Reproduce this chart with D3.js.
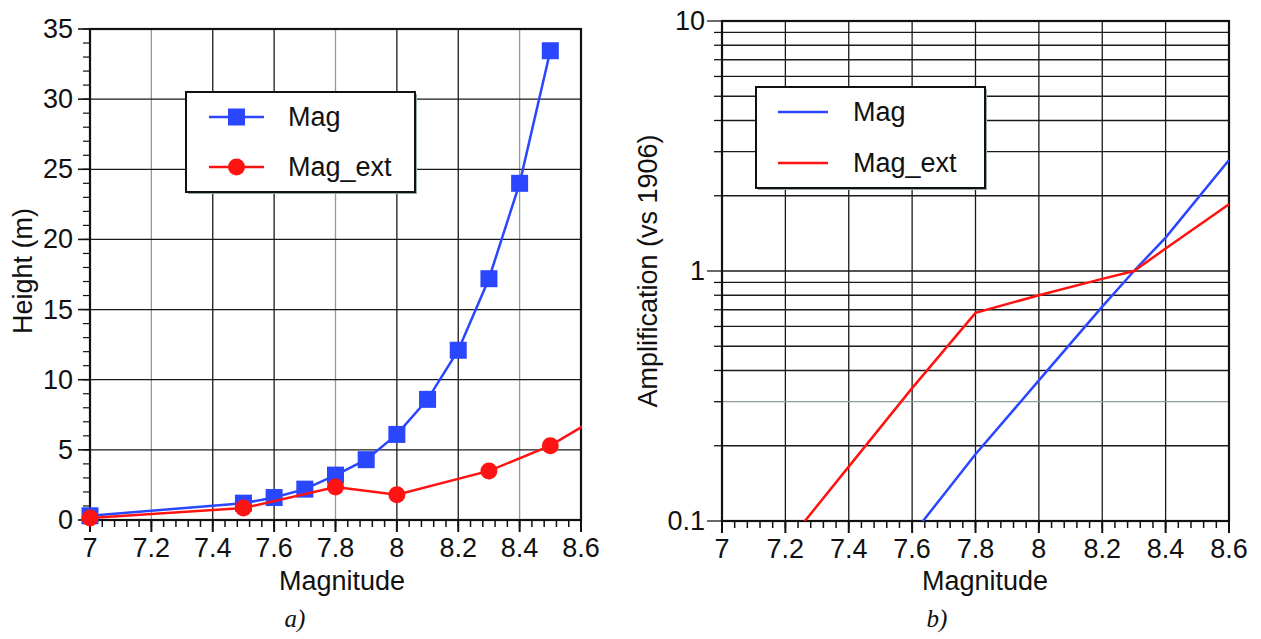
<!DOCTYPE html>
<html>
<head>
<meta charset="utf-8">
<script src="https://cdn.jsdelivr.net/npm/d3@7"></script>
<style>
  html, body { margin: 0; padding: 0; background: #ffffff; }
  svg { display: block; }
  text { font-family: "Liberation Sans", Arial, Helvetica, sans-serif; fill: #111; }
</style>
</head>
<body>
<svg id="chart" width="1261" height="639"></svg>
<script>
// ---- Panel a: tsunami height vs magnitude ----
const heightMagX    = [7.0, 7.5, 7.6, 7.7, 7.8, 7.9, 8.0, 8.1, 8.2, 8.3, 8.4, 8.5];
const heightMag     = [0.3, 1.2, 1.6, 2.2, 3.2, 4.3, 6.1, 8.6, 12.1, 17.2, 24.0, 33.45];
const heightExtX    = [7.0, 7.5, 7.8, 8.0, 8.3, 8.5, 8.7];
const heightExt     = [0.15, 0.85, 2.35, 1.8, 3.5, 5.3, 7.9];
const heightYTicks  = [0, 5, 10, 15, 20, 25, 30, 35];

// ---- Panel b: amplification relative to 1906 ----
const ampMagX       = [7.6, 7.8, 8.0, 8.2, 8.3, 8.4, 8.6];
const ampMag        = [0.088, 0.185, 0.365, 0.72, 1.0, 1.36, 2.78];
const ampExtX       = [7.2, 7.4, 7.6, 7.8, 8.0, 8.2, 8.3, 8.4, 8.6];
const ampExt        = [0.08, 0.165, 0.34, 0.68, 0.80, 0.93, 1.0, 1.23, 1.85];
const ampYTicks     = [0.1, 1, 10];
const ampYLabels    = ["0.1", "1", "10"];

// ---- Shared ----
const magTicks      = [7, 7.2, 7.4, 7.6, 7.8, 8, 8.2, 8.4, 8.6];
const magLabels     = ["7", "7.2", "7.4", "7.6", "7.8", "8", "8.2", "8.4", "8.6"];
const seriesNames   = ["Mag", "Mag_ext"];

const BLUE = "#2b46ff";
const RED  = "#ff1212";
const FS = 27;

const svg = d3.select("#chart");

function minorMag() {
  const out = [];
  for (let i = 0; i <= 40; i++) out.push(+(7 + i * 0.04).toFixed(2));
  return out;
}
const paleGridAt = new Set([7.2, 7.8, 8.4]);

function drawXAxis(g, x, yBottom) {
  // minor ticks every 0.04, major ticks at labelled values
  g.selectAll(".xminor").data(minorMag()).join("line")
    .attr("x1", d => x(d)).attr("x2", d => x(d))
    .attr("y1", yBottom).attr("y2", yBottom + 7)
    .attr("stroke", "#111").attr("stroke-width", 1.5);
  g.selectAll(".xmajor").data(magTicks).join("line")
    .attr("x1", d => x(d)).attr("x2", d => x(d))
    .attr("y1", yBottom).attr("y2", yBottom + 12)
    .attr("stroke", "#111").attr("stroke-width", 2);
  g.selectAll(".xlab").data(magTicks).join("text")
    .attr("x", d => x(d)).attr("y", yBottom + 37)
    .attr("text-anchor", "middle").attr("font-size", FS)
    .text((d, i) => magLabels[i]);
}

function drawLegend(g, box, rows, withMarkers) {
  g.append("rect").attr("x", box.x + 2).attr("y", box.y + 2)
    .attr("width", box.w).attr("height", box.h).attr("fill", "#9aa");
  g.append("rect").attr("x", box.x).attr("y", box.y)
    .attr("width", box.w).attr("height", box.h)
    .attr("fill", "#fff").attr("stroke", "#111").attr("stroke-width", 2);
  rows.forEach((r, i) => {
    const y = box.y + box.rowTop + i * box.rowGap;
    g.append("line").attr("x1", box.x + box.lineX0).attr("x2", box.x + box.lineX1)
      .attr("y1", y).attr("y2", y).attr("stroke", r.color).attr("stroke-width", 2.5);
    if (withMarkers) {
      const cx = (box.lineX0 + box.lineX1) / 2 + box.x;
      if (r.shape === "square") {
        g.append("rect").attr("x", cx - 8.5).attr("y", y - 8.5).attr("width", 17).attr("height", 17)
          .attr("fill", r.color);
      } else {
        g.append("circle").attr("cx", cx).attr("cy", y).attr("r", 8.5).attr("fill", r.color);
      }
    }
    g.append("text").attr("x", box.x + box.textX).attr("y", y + 9)
      .attr("font-size", FS).text(r.name);
  });
}

// ================= Panel a =================
{
  const L = 90, R = 581, T = 29, B = 520;
  const x = d3.scaleLinear().domain([7, 8.6]).range([L, R]);
  const y = d3.scaleLinear().domain([0, 35]).range([B, T]);
  const g = svg.append("g");

  // grid
  g.selectAll(".vg").data(magTicks.slice(1, -1)).join("line")
    .attr("x1", d => x(d)).attr("x2", d => x(d)).attr("y1", T).attr("y2", B)
    .attr("stroke", d => paleGridAt.has(d) ? "#8f9c9c" : "#1a1a1a").attr("stroke-width", 1.3);
  g.selectAll(".hg").data(heightYTicks.slice(1, -1)).join("line")
    .attr("x1", L).attr("x2", R).attr("y1", d => y(d)).attr("y2", d => y(d))
    .attr("stroke", "#1a1a1a").attr("stroke-width", 1.3);

  // y ticks
  g.selectAll(".yminor").data(d3.range(0, 36)).join("line")
    .attr("x1", L - 7).attr("x2", L).attr("y1", d => y(d)).attr("y2", d => y(d))
    .attr("stroke", "#111").attr("stroke-width", 1.2);
  g.selectAll(".ymajor").data(heightYTicks).join("line")
    .attr("x1", L - 12).attr("x2", L).attr("y1", d => y(d)).attr("y2", d => y(d))
    .attr("stroke", "#111").attr("stroke-width", 1.6);
  g.selectAll(".ylab").data(heightYTicks).join("text")
    .attr("x", L - 17).attr("y", d => y(d) + 9)
    .attr("text-anchor", "end").attr("font-size", FS).text(d => d);

  drawXAxis(g, x, B);

  // frame
  g.append("rect").attr("x", L).attr("y", T).attr("width", R - L).attr("height", B - T)
    .attr("fill", "none").attr("stroke", "#111").attr("stroke-width", 2.2);

  // clipped data
  g.append("clipPath").attr("id", "clipA").append("rect")
    .attr("x", L - 12).attr("y", T - 12).attr("width", R - L + 13).attr("height", B - T + 24);
  const dg = g.append("g").attr("clip-path", "url(#clipA)");
  const line = d3.line().x(d => x(d[0])).y(d => y(d[1]));
  const magPts = heightMagX.map((v, i) => [v, heightMag[i]]);
  const extPts = heightExtX.map((v, i) => [v, heightExt[i]]);

  dg.append("path").datum(magPts).attr("d", line)
    .attr("fill", "none").attr("stroke", BLUE).attr("stroke-width", 2.5);
  dg.selectAll(".sq").data(magPts).join("rect")
    .attr("x", d => x(d[0]) - 8.5).attr("y", d => y(d[1]) - 8.5)
    .attr("width", 17).attr("height", 17).attr("fill", BLUE);
  dg.append("path").datum(extPts).attr("d", line)
    .attr("fill", "none").attr("stroke", RED).attr("stroke-width", 2.5);
  dg.selectAll(".ci").data(extPts).join("circle")
    .attr("cx", d => x(d[0])).attr("cy", d => y(d[1])).attr("r", 8.5).attr("fill", RED);

  drawLegend(g, { x: 186, y: 92, w: 229, h: 100, rowTop: 25, rowGap: 50, lineX0: 23, lineX1: 78, textX: 102 },
    [{ name: seriesNames[0], color: BLUE, shape: "square" }, { name: seriesNames[1], color: RED, shape: "circle" }], true);

  // titles
  g.append("text").attr("x", 342).attr("y", 590).attr("text-anchor", "middle")
    .attr("font-size", FS).text("Magnitude");
  g.append("text").attr("transform", "translate(32,271) rotate(-90)")
    .attr("text-anchor", "middle").attr("font-size", FS).text("Height (m)");
  g.append("text").attr("x", 295).attr("y", 627).attr("text-anchor", "middle")
    .attr("font-size", 25).attr("font-style", "italic")
    .style("font-family", "'Liberation Serif', 'Times New Roman', serif").text("a)");
}

// ================= Panel b =================
{
  const L = 722, R = 1229, T = 21, B = 521;
  const x = d3.scaleLinear().domain([7, 8.6]).range([L, R]);
  const y = d3.scaleLog().domain([0.1, 10]).range([B, T]);
  const g = svg.append("g");

  const logMinor = [];
  [0.1, 1].forEach(dec => { for (let k = 2; k <= 9; k++) logMinor.push(+(k * dec).toFixed(2)); });

  // grid
  g.selectAll(".vg").data(magTicks.slice(1, -1)).join("line")
    .attr("x1", d => x(d)).attr("x2", d => x(d)).attr("y1", T).attr("y2", B)
    .attr("stroke", "#1a1a1a").attr("stroke-width", 1.3);
  g.selectAll(".hg").data(logMinor.concat([1])).join("line")
    .attr("x1", L).attr("x2", R).attr("y1", d => y(d)).attr("y2", d => y(d))
    .attr("stroke", d => d === 0.3 ? "#8f9c9c" : "#1a1a1a").attr("stroke-width", 1.3);

  // y ticks
  g.selectAll(".yminor").data(logMinor).join("line")
    .attr("x1", L - 8).attr("x2", L).attr("y1", d => y(d)).attr("y2", d => y(d))
    .attr("stroke", "#111").attr("stroke-width", 1.3);
  g.selectAll(".ymajor").data(ampYTicks).join("line")
    .attr("x1", L - 15).attr("x2", L).attr("y1", d => y(d)).attr("y2", d => y(d))
    .attr("stroke", "#444").attr("stroke-width", 1.6);
  g.selectAll(".ylab").data(ampYTicks).join("text")
    .attr("x", L - 17).attr("y", d => y(d) + 9)
    .attr("text-anchor", "end").attr("font-size", FS).text((d, i) => ampYLabels[i]);

  drawXAxis(g, x, B);

  g.append("rect").attr("x", L).attr("y", T).attr("width", R - L).attr("height", B - T)
    .attr("fill", "none").attr("stroke", "#111").attr("stroke-width", 2.2);

  g.append("clipPath").attr("id", "clipB").append("rect")
    .attr("x", L).attr("y", T).attr("width", R - L).attr("height", B - T);
  const dg = g.append("g").attr("clip-path", "url(#clipB)");
  const line = d3.line().x(d => x(d[0])).y(d => y(d[1]));
  dg.append("path").datum(ampMagX.map((v, i) => [v, ampMag[i]])).attr("d", line)
    .attr("fill", "none").attr("stroke", BLUE).attr("stroke-width", 2.5);
  dg.append("path").datum(ampExtX.map((v, i) => [v, ampExt[i]])).attr("d", line)
    .attr("fill", "none").attr("stroke", RED).attr("stroke-width", 2.5);

  drawLegend(g, { x: 756, y: 87, w: 229, h: 101, rowTop: 25, rowGap: 51, lineX0: 22, lineX1: 72, textX: 97 },
    [{ name: seriesNames[0], color: BLUE }, { name: seriesNames[1], color: RED }], false);

  g.append("text").attr("x", 985).attr("y", 590).attr("text-anchor", "middle")
    .attr("font-size", FS).text("Magnitude");
  g.append("text").attr("transform", "translate(657,271) rotate(-90)")
    .attr("text-anchor", "middle").attr("font-size", FS).text("Amplification (vs 1906)");
  g.append("text").attr("x", 937).attr("y", 627).attr("text-anchor", "middle")
    .attr("font-size", 25).attr("font-style", "italic")
    .style("font-family", "'Liberation Serif', 'Times New Roman', serif").text("b)");
}
</script>
</body>
</html>
